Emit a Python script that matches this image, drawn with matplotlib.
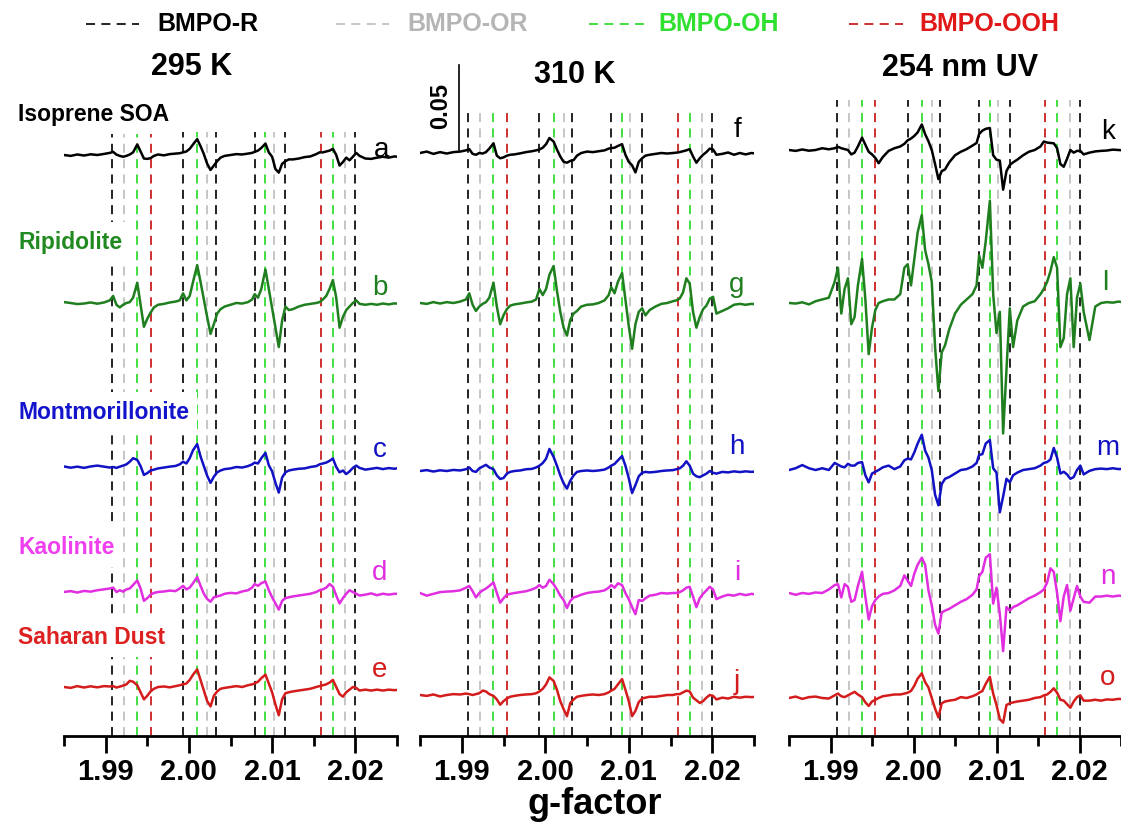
import numpy as np
import matplotlib

matplotlib.use("Agg")
import matplotlib.pyplot as plt
from matplotlib.lines import Line2D
from matplotlib.ticker import MultipleLocator, FormatStrFormatter

plt.rcParams["font.family"] = ["Liberation Sans", "DejaVu Sans"]

W, H = 1121, 823

# ── Data ──────────────────────────────────────────────────────────────────────
# g-factor sampling shared by every spectrum
G = [1.9850, 1.9858, 1.9866, 1.9874, 1.9882, 1.9890, 1.9898,
     1.9905, 1.9909, 1.9913, 1.9917, 1.9921, 1.9925, 1.9929, 1.9933, 1.9938, 1.9942, 1.9946, 1.9950, 1.9954, 1.9958, 1.9963,
     1.9970, 1.9977, 1.9984, 1.9989,
     1.9993, 1.9997, 2.0001, 2.0005, 2.0010, 2.0014, 2.0018, 2.0022, 2.0026, 2.0030, 2.0034, 2.0038, 2.0043,
     2.0050, 2.0057, 2.0064, 2.0071, 2.0076,
     2.0079, 2.0083, 2.0087, 2.0092, 2.0096, 2.0100, 2.0104, 2.0108, 2.0112, 2.0116, 2.0120, 2.0125,
     2.0132, 2.0139, 2.0146, 2.0153,
     2.0157, 2.0161, 2.0165, 2.0169, 2.0173, 2.0177, 2.0181, 2.0185, 2.0189, 2.0193, 2.0197, 2.0201, 2.0205,
     2.0212, 2.0219, 2.0226, 2.0233, 2.0240, 2.0247, 2.0254, 2.0262, 2.0270]

# EPR signal, in units of 1.04e-3 (baseline removed)
SOA_295 = [0, -0.5, 0.3, -0.3, 0.4, 0, 0.6,
           1.2, 1.8, 0.2, -0.5, -1.0, -0.5, 0.3, 1.5, 6.0, 2.0, -2.0, -2.2, -1.8, -0.5, 0.3,
           -0.2, 0.5, 0.8, 1.0,
           1.5, 2.0, 3.5, 6.0, 9.0, 5.0, 0.5, -5.0, -8.5, -6.0, -3.5, -1.5, -0.5,
           0, 0.5, 0.3, 0.8, 1.2,
           1.8, 2.5, 4.0, 6.5, 1.5, -1.0, -8.0, -10.0, -5.0, -3.5, -2.5, -2.5,
           -2.0, -1.2, -0.8, 0.5,
           1.5, 1.5, 2.0, 2.5, 3.5, 0, -6.0, -4.0, -1.5, -3.0, -1.0, 1.2, -0.5,
           -2.0, -2.2, -1.5, -1.0, -1.5, -0.8, -1.2, -1.0, -1.0]
RIP_295 = [0.5, 0, -0.6, -0.3, 0.3, -0.4, 0.3,
           1.5, 4.0, -1.0, -2.5, -1.0, 0, 0.5, 3.0, 11.5, -1.0, -13.5, -9.0, -5.5, -2.5, -1.0,
           -0.5, 0.3, 0.8, 1.5,
           5.5, 1.5, 4.0, 12.0, 21.5, 12.0, 2.0, -8.0, -17.5, -12.0, -6.0, -3.5, -2.0,
           -1.0, 0, -0.3, 0.5, 2.0,
           5.0, 3.0, 8.0, 19.0, 8.0, -3.0, -14.0, -25.0, -10.0, -2.0, -4.0, -3.5,
           -2.0, -1.0, -0.5, 0,
           0.5, 2.0, 4.0, 8.0, 13.0, 3.0, -14.0, -8.0, -4.0, -2.0, 0, 1.5, -0.5,
           -1.0, -0.5, -1.0, -0.3, -0.8, -0.2, -0.6, -0.3, -0.5]
MONT_295 = [0.3, -0.4, 0.2, -0.5, 0.3, 0.8, 0.2,
            -0.3, 0, -0.5, 0.2, 0.8, 1.5, 3.0, 5.0, 4.0, 0.5, -4.5, -3.5, -2.0, -1.5, -0.8,
            -0.3, 0.2, 0.6, 1.5,
            3.0, 2.0, 5.0, 9.5, 13.0, 6.0, 0.5, -5.0, -9.0, -5.5, -3.0, -2.0, -1.2,
            -0.8, 0, -0.3, 0.5, 1.5,
            2.5, 2.0, 5.0, 8.0, 1.0, -2.5, -9.0, -14.5, -6.0, -3.0, -2.0, -1.5,
            -1.0, -0.8, 0, 0.5,
            1.5, 2.0, 2.5, 3.5, 4.8, 0, -3.0, -2.0, -4.0, -2.5, -0.5, 0.8, -0.5,
            -1.5, -1.0, -0.5, -1.2, -0.6, -1.0, -0.4, -0.8, -0.5]
KAO_295 = [0, 0.5, -0.3, 0.6, 0.2, 1.0, 1.5,
           2.0, 2.5, 0, 1.0, 0.2, 1.5, 2.0, 4.0, 6.5, 2.0, -5.0, -3.5, -1.5, -0.5, 0,
           0.3, 0.8, 0.5, 2.0,
           3.5, 1.5, 2.5, 5.0, 8.5, 3.5, -1.0, -4.0, -5.5, -3.0, -2.5, -2.0, -1.0,
           -0.5, -0.8, 0.3, 1.0, 2.5,
           4.5, 3.5, 5.0, 6.0, 1.0, -3.0, -6.5, -10.0, -5.0, -3.5, -3.0, -2.5,
           -2.0, -1.5, -1.0, 0,
           1.0, 1.5, 2.5, 4.5, 3.0, -2.0, -6.5, -3.5, -1.0, 1.0, 0, -1.0, -2.0,
           -1.5, -0.8, -1.8, -1.0, -1.5, -1.0, -1.2, -1.0, -1.0]
SAH_295 = [0, -0.5, 0.5, -0.3, 0.4, -0.2, 0.5,
           0.3, 0.5, -0.3, 0.2, 0.8, 1.5, 3.5, 3.0, 1.0, -3.0, -7.0, -5.0, -2.5, -1.0, 0,
           0.3, -0.2, 0.5, 1.0,
           1.5, 2.0, 4.0, 7.0, 10.0, 4.0, -2.0, -8.0, -11.0, -5.0, -2.5, -1.0, -0.5,
           0, 0.5, 0, 1.0, 1.5,
           2.0, 3.0, 5.0, 7.0, 2.0, -3.0, -10.0, -16.0, -7.0, -3.5, -3.0, -2.5,
           -2.0, -1.5, -1.0, 0,
           0.5, 1.0, 1.5, 2.5, 4.0, 0, -4.0, -5.5, -3.0, -1.5, 0, -0.5, -2.0,
           -1.5, -2.0, -1.5, -2.0, -1.5, -1.8, -1.5, -1.5, -1.5]

SOA_310 = [0, 0.8, -0.5, 0.5, -0.3, 0.5, 0.8,
           1.5, 2.2, -0.5, -1.0, 0, -0.3, 0.5, 2.5, 5.5, -1.5, -3.0, -2.5, -1.5, -1.0, -0.8,
           -0.2, 0.5, 1.0, 1.5,
           2.0, 3.0, 5.0, 8.5, 6.5, 2.0, -2.0, -5.0, -5.5, -4.5, -4.0, -1.5, 0,
           0.8, 0.5, 1.0, 1.5, 2.5,
           2.8, 3.0, 4.0, 5.0, -1.0, -5.0, -7.0, -11.0, -5.0, -3.0, -1.5, -1.0,
           -0.5, 0, -0.3, 0,
           0.2, 0.5, 1.0, 1.5, 2.2, -2.0, -5.5, -3.0, -1.0, 0.5, 2.5, 2.0, -1.0,
           -0.5, 0.3, -1.0, 0, -0.8, 0, -0.5, 0, 0]
RIP_310 = [0, -0.5, 0.5, -0.3, 0.5, 0, 0.8,
           2.0, 5.5, -1.0, -4.5, -2.0, -0.5, 0.5, 3.0, 11.5, -2.0, -12.0, -7.0, -3.5, -1.5, -0.8,
           -0.3, 0.3, 0.8, 2.0,
           8.0, 4.5, 8.0, 16.0, 21.0, 7.0, -5.0, -14.0, -18.5, -9.5, -6.0, -4.5, -2.0,
           -1.0, -0.8, 0, 1.5, 4.5,
           9.0, 5.5, 12.0, 17.0, 2.0, -13.0, -26.0, -12.0, -5.0, -3.0, -7.0, -4.0,
           -2.0, -0.5, 0, 1.0,
           1.5, 2.5, 6.0, 14.0, 11.0, -5.0, -14.0, -8.0, -3.5, -1.5, 2.5, 3.5, -6.0,
           -4.5, -3.0, -1.0, -0.5, -1.0, -0.5, -0.8, -0.5, -0.5]
MONT_310 = [0, 0.5, -0.3, 0.4, 0, 0.6, 0.3,
            1.0, 2.0, 0, -0.5, 1.5, 2.5, 3.5, 2.0, 1.0, -2.5, -4.5, -4.0, -1.5, -0.5, 0,
            0.3, 1.0, 1.2, 2.0,
            3.0, 4.5, 7.0, 12.5, 8.0, 3.0, -2.5, -7.0, -10.0, -5.5, -2.5, -0.5, 0,
            0.3, 0, 0.3, 0.8, 2.0,
            3.0, 4.0, 6.0, 8.5, 3.0, -4.0, -12.5, -8.0, -3.0, -1.0, -0.5, -0.8,
            -0.5, 0, 0.3, 0.5,
            1.0, 1.5, 3.0, 5.5, 3.0, -1.5, -3.0, -3.5, -2.5, -1.5, 0, -1.0, -1.5,
            -0.5, -0.8, -0.2, -0.6, -0.2, -0.5, -0.2, -0.4, -0.3]
KAO_310 = [0, -1.5, -0.5, 0.5, 0.8, 1.0, 1.5,
           3.0, 4.0, 1.0, -2.5, 0, 1.5, 2.5, 4.0, 6.0, 0, -5.5, -3.0, -1.0, -0.5, 0,
           0.5, 1.0, 2.0, 3.0,
           4.5, 3.0, 4.0, 7.5, 5.0, 2.0, -1.5, -4.0, -8.5, -4.5, -2.5, -2.0, -1.0,
           0, 0.5, 0.8, 1.5, 3.0,
           4.5, 3.0, 5.5, 4.5, 0, -3.5, -8.0, -12.0, -4.0, -4.5, -3.0, -1.5,
           -1.0, 0, -0.3, 0,
           0, 0.5, 1.5, 3.0, 3.5, -2.0, -8.0, -3.0, -0.5, 1.5, 3.5, 2.0, -3.5,
           -2.0, -1.0, -1.5, -0.5, -1.2, -0.5, -1.0, -0.5, -0.5]
SAH_310 = [0, -0.5, 0.3, -0.8, 0, 0.5, 0.3,
           0.8, 0.5, 0, 0.5, 1.0, 2.5, 2.0, 0.5, -0.5, -2.5, -5.5, -3.5, -2.0, -1.0, -0.5,
           0, 0.3, 0.5, 1.0,
           2.0, 3.5, 6.0, 10.0, 8.0, 3.0, -3.5, -8.0, -12.0, -4.5, -2.5, -1.0, -0.5,
           0, 0.3, 0, 0.5, 1.5,
           2.5, 3.5, 6.0, 9.0, 3.0, -3.5, -12.0, -9.0, -4.0, -2.0, -1.5, -1.0,
           -1.0, -0.5, 0, 0,
           0.5, 0.5, 1.5, 2.5, 2.0, -1.5, -3.0, -4.5, -3.5, -1.5, 0, -0.5, -2.5,
           -1.5, -2.0, -1.0, -1.5, -1.0, -1.2, -1.0, -1.0, -1.0]

SOA_UV = [0, -0.5, 0.3, -0.4, 0, 1.0, 0.4,
          1.0, 1.8, 1.0, 0.5, 0, -2.5, -1.5, 2.0, 7.0, 3.0, -1.0, -2.5, -4.5, -7.5, -4.0,
          -0.5, 1.0, 2.0, 3.5,
          5.5, 6.5, 8.0, 10.0, 14.5, 9.0, 5.0, 0, -8.0, -16.5, -12.0, -11.0, -7.0,
          -3.0, -1.0, 0.5, 2.5, 4.0,
          9.0, 11.0, 12.0, 12.5, -3.0, -5.5, -6.0, -22.5, -12.0, -8.5, -7.0, -5.5,
          -3.0, -1.0, 0, 2.0,
          4.8, 4.2, 4.0, 3.8, 1.0, -8.0, -9.5, -5.0, 0, -1.5, -0.5, -0.5, -2.5,
          -1.5, -0.8, -0.5, -0.3, 0.2, 0, -0.3, 0.2, 0]
RIP_UV = [0, -0.3, 0.4, -0.8, 1.0, 2.0, 3.0,
          12.0, 20.0, -6.0, 8.0, 14.0, -12.0, -8.0, 10.0, 25.0, 2.0, -29.0, -14.0, -4.0, 0, 1.0,
          2.0, 2.0, 5.0, 20.0,
          22.0, 10.0, 25.0, 40.0, 50.0, 30.0, 22.0, 12.0, -25.0, -50.0, -28.0, -24.0, -15.0,
          -6.0, -1.0, 2.0, 5.0, 10.0,
          27.0, 20.0, 35.0, 58.0, 5.0, -17.0, -5.0, -74.0, -38.0, -3.0, -25.0, -10.0,
          -2.0, 0, 1.0, 5.0,
          8.0, 12.0, 18.0, 26.0, 20.0, -25.0, -20.0, 5.0, 14.0, -25.0, 3.0, 11.0, -5.0,
          -21.0, -2.0, 0, 0.5, 0.2, 0.8, 0.3, 0.5, 0.3]
MONT_UV = [0, 1.0, 2.8, 1.0, 0, 1.0, 0,
           4.0, 3.0, 2.0, 1.5, 3.5, 2.5, 2.5, 4.0, 4.5, -3.0, -7.0, -2.0, -1.0, 0, 1.5,
           2.5, 0.5, 2.0, 5.5,
           6.5, 6.0, 10.0, 15.0, 20.0, 11.0, 7.0, 0, -14.0, -20.0, -8.0, -5.0, -4.0,
           -2.0, 0, 0.5, 2.0, 4.0,
           8.5, 9.0, 15.0, 17.0, 1.0, -1.5, -24.0, -15.0, -5.0, -7.0, -3.0, -1.5,
           0, 0.5, 1.0, 2.5,
           4.0, 4.5, 6.0, 12.5, 7.0, -2.0, -1.0, -2.5, -5.0, -4.0, 0, 2.5, -2.5,
           -0.5, 0.5, 0.8, 0.5, 1.0, 0.5, 0.8, 0.5, 0.5]
KAO_UV = [0, -1.0, 0, -0.5, 0.3, 0, 2.0,
          4.5, 5.0, -2.5, 5.0, 3.5, -5.0, -4.0, 4.0, 12.0, -2.0, -15.0, -7.5, -4.0, -2.0, -0.5,
          0, 1.5, 4.0, 10.0,
          7.0, 4.0, 11.0, 16.0, 20.0, 16.0, 1.5, -7.0, -18.0, -23.0, -11.0, -10.0, -9.0,
          -7.0, -5.0, -3.5, -1.0, 2.0,
          9.5, 12.0, 20.0, 22.0, -6.0, 3.0, -12.0, -33.0, -8.0, -10.0, -8.0, -7.0,
          -5.0, -3.0, -1.5, 0.5,
          2.0, 6.0, 14.0, 12.0, 0, -16.0, -2.0, 4.5, -10.0, -3.0, 4.0, -2.0, -5.0,
          -5.5, -2.0, -2.0, -1.5, -2.0, -1.5, -1.8, -1.5, -1.5]
SAH_UV = [0, 0.8, -0.5, 0.5, 0.8, 0, -0.3,
          1.5, 2.5, 1.0, 0.5, 1.5, 2.5, 3.5, 2.0, 0.5, -2.5, -4.5, -2.0, -1.0, 0, 1.0,
          1.5, 2.0, 2.0, 2.5,
          3.0, 4.0, 7.0, 11.0, 14.0, 9.0, 6.0, 0, -6.0, -11.0, -3.0, -2.0, -1.5,
          -1.0, 0.5, 0, 1.0, 2.0,
          3.0, 4.0, 8.0, 12.0, 2.5, -4.0, -12.0, -14.0, -4.0, -3.0, -2.5, -2.0,
          -1.5, -1.0, 0, 0.5,
          1.5, 2.0, 3.5, 5.5, 3.0, -1.0, -1.5, -3.5, -5.5, -2.0, 0.5, 1.5, -1.5,
          -1.5, -1.0, -1.5, -0.8, -1.0, -0.5, -0.8, -0.5, -0.5]

PANEL_TITLES = ["295 K", "310 K", "254 nm UV"]
SAMPLES = ["Isoprene SOA", "Ripidolite", "Montmorillonite", "Kaolinite", "Saharan Dust"]
PANEL_DATA = [[SOA_295, RIP_295, MONT_295, KAO_295, SAH_295],
              [SOA_310, RIP_310, MONT_310, KAO_310, SAH_310],
              [SOA_UV, RIP_UV, MONT_UV, KAO_UV, SAH_UV]]
LETTERS = ["abcde", "fghij", "klmno"]

# BMPO spin-adduct line positions (g-factor)
BMPO_R = [1.9908, 1.9993, 2.0032, 2.0079, 2.0116, 2.0200]
BMPO_OR = [1.9922, 2.0022, 2.0102, 2.0188]
BMPO_OH = [1.9938, 2.0010, 2.0092, 2.0173]
BMPO_OOH = [1.9954, 2.0159]
ADDUCT_NAMES = ["BMPO-R", "BMPO-OR", "BMPO-OH", "BMPO-OOH"]
SCALE_BAR = 0.05

# ── Styling / layout ──────────────────────────────────────────────────────────
Y_UNIT = 1.04e-3
PX = 0.00059                       # intensity per image pixel
AX_TOP, AX_BOT = 60, 736
PANEL_X = [(64, 397), (420, 754), (789, 1121)]
BASE_PX = [[155, 303, 467, 592, 687], [153, 303, 471, 593, 695], [150, 303, 470, 593, 698]]
LINE_TOP_PX = [132, 113, 100]
TRACE_COLORS = ["#000000", "#1f7f1f", "#1212c4", "#e02ee0", "#d41c1c"]
LABEL_COLORS = ["#000000", "#208a20", "#1414cc", "#ee40ee", "#dd2020"]
DASH_COLORS = ["#111111", "#c2c2c2", "#33dd33", "#cc2020"]
LEGEND_TEXT_COLORS = ["#000000", "#b5b5b5", "#30e030", "#e01818"]
DASH = (0, (5, 3.5))


def fx(x):
    return x / W


def fy(y):
    return 1 - y / H


fig = plt.figure(figsize=(W / 100, H / 100), dpi=100)
fig.patch.set_facecolor("white")
ymax = (AX_BOT - AX_TOP) * PX
adducts = [BMPO_R, BMPO_OR, BMPO_OH, BMPO_OOH]
axes = []

for p, (x0, x1) in enumerate(PANEL_X):
    ax = fig.add_axes([fx(x0), fy(AX_BOT), (x1 - x0) / W, (AX_BOT - AX_TOP) / H])
    ax.set_xlim(1.985, 2.025)
    ax.set_ylim(0, ymax)
    ax.patch.set_alpha(0)
    for s in ("top", "right", "left"):
        ax.spines[s].set_visible(False)
    ax.spines["bottom"].set_linewidth(2)
    ax.set_yticks([])
    ax.xaxis.set_major_locator(MultipleLocator(0.01))
    ax.xaxis.set_minor_locator(MultipleLocator(0.005))
    ax.xaxis.set_major_formatter(FormatStrFormatter("%.2f"))
    ax.tick_params(axis="x", which="major", direction="out", length=12, width=2,
                   labelsize=21, pad=4)
    ax.tick_params(axis="x", which="minor", direction="out", length=7, width=2)
    for lbl in ax.get_xticklabels():
        lbl.set_fontweight("bold")

    top = (AX_BOT - LINE_TOP_PX[p]) * PX
    for pos, col in zip(adducts, DASH_COLORS):
        ax.vlines(pos, 0, top, colors=col, linestyles=[DASH], linewidth=1.3, zorder=1)

    for i, vals in enumerate(PANEL_DATA[p]):
        off = (AX_BOT - BASE_PX[p][i]) * PX
        ax.plot(G, off + np.array(vals) * Y_UNIT, color=TRACE_COLORS[i], lw=1.8, zorder=3,
                solid_joinstyle="round")
    axes.append(ax)

# scale bar in the 310 K panel
sb_base = (AX_BOT - 150) * PX
axes[1].plot([1.9897, 1.9897], [sb_base, sb_base + SCALE_BAR], color="black", lw=1.2,
             clip_on=False, zorder=4)
fig.text(fx(441), fy(106), f"{SCALE_BAR:.2f}", rotation=90, ha="center", va="center",
         fontsize=17, fontweight="bold")

# panel titles
for t, (x, y) in zip(PANEL_TITLES, [(192, 67), (575, 75), (960, 68)]):
    fig.text(fx(x), fy(y), t, ha="center", va="center", fontsize=22, fontweight="bold")

# legend row
legend_pos = [(86, 139, 157), (336, 389, 407), (589, 644, 658), (849, 903, 919)]
for name, (d0, d1, tx), dc, tc in zip(ADDUCT_NAMES, legend_pos, DASH_COLORS, LEGEND_TEXT_COLORS):
    fig.add_artist(Line2D([fx(d0), fx(d1)], [fy(24), fy(24)], color=dc, lw=1.3, linestyle=DASH))
    fig.text(fx(tx), fy(24), name, ha="left", va="center", fontsize=18, fontweight="bold", color=tc)

# sample names (white boxes interrupt the dashed guide lines)
for name, y, c in zip(SAMPLES, [114, 242, 412, 547, 637], LABEL_COLORS):
    fig.text(fx(18), fy(y), name, ha="left", va="center", fontsize=16.5, fontweight="bold",
             color=c, bbox=dict(boxstyle="square,pad=0.35", fc="white", ec="none"))

# trace letters
letter_xy = [[(382, 150), (380, 288), (380, 450), (380, 573), (380, 670)],
             [(737, 130), (737, 285), (737, 447), (737, 573), (737, 682)],
             [(1108, 132), (1105, 283), (1108, 448), (1108, 577), (1108, 678)]]
for p in range(3):
    for i, ch in enumerate(LETTERS[p]):
        x, y = letter_xy[p][i]
        fig.text(fx(x), fy(y), ch, ha="center", va="center", fontsize=20, color=TRACE_COLORS[i])

fig.text(fx(595), fy(805), "g-factor", ha="center", va="center", fontsize=26, fontweight="bold")

fig.savefig("out.png", dpi=100, facecolor="white")
